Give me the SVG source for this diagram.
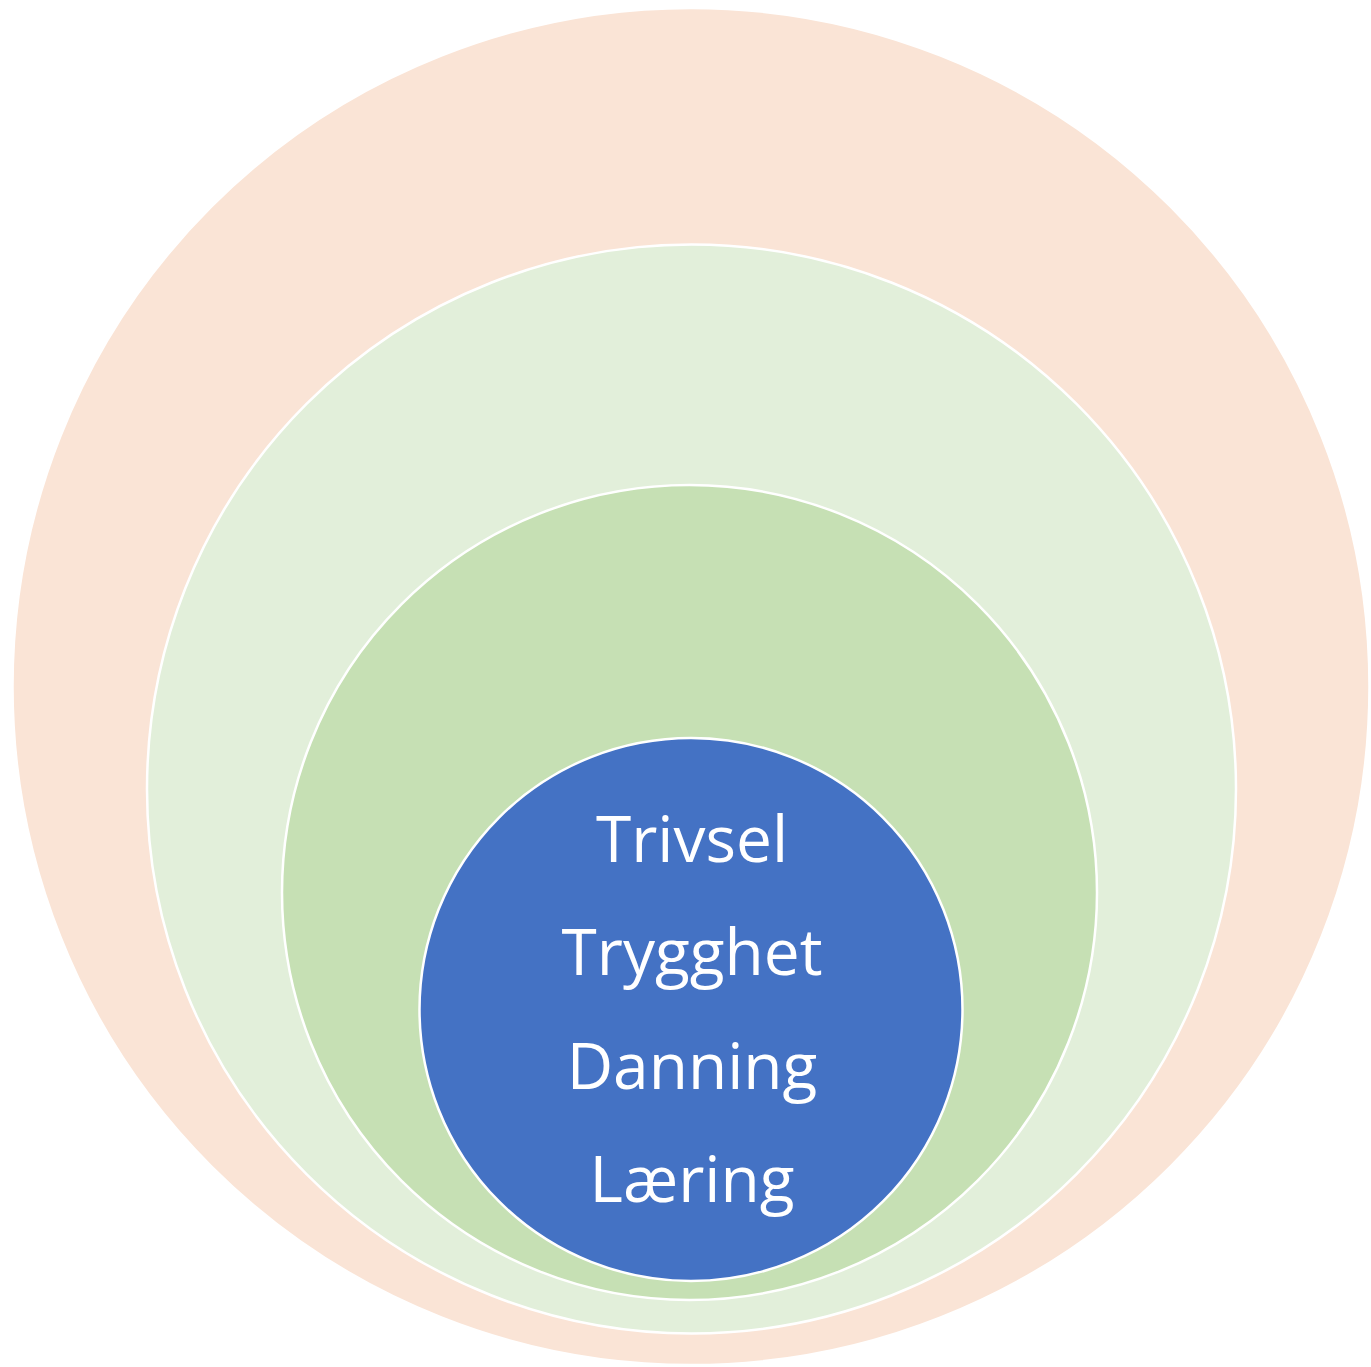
<svg xmlns="http://www.w3.org/2000/svg" width="1371" height="1367" viewBox="0 0 1371 1367">
<style>
.ring{stroke:#ffffff;stroke-width:2.5}
.lbl{font-family:"Open Sans","Liberation Sans",sans-serif;font-size:64px;fill:#ffffff;text-anchor:middle}
</style>
<rect width="1371" height="1367" fill="#ffffff"/>
<g id="outer"><circle class="ring" cx="691" cy="686.5" r="678.5" fill="#fae4d6"/></g>
<g id="second"><circle class="ring" cx="691.5" cy="789" r="544.5" fill="#e2efda"/></g>
<g id="third"><circle class="ring" cx="689.5" cy="892.5" r="407.5" fill="#c6e0b4"/></g>
<g id="core"><circle class="ring" cx="691" cy="1009.5" r="271.5" fill="#4472c4"/>
<text class="lbl" x="692" y="862">Trivsel</text>
<text class="lbl" x="692" y="975">Trygghet</text>
<text class="lbl" x="692" y="1089">Danning</text>
<text class="lbl" x="692" y="1202">Læring</text>
</g>
<g id="connectors"></g>
</svg>
